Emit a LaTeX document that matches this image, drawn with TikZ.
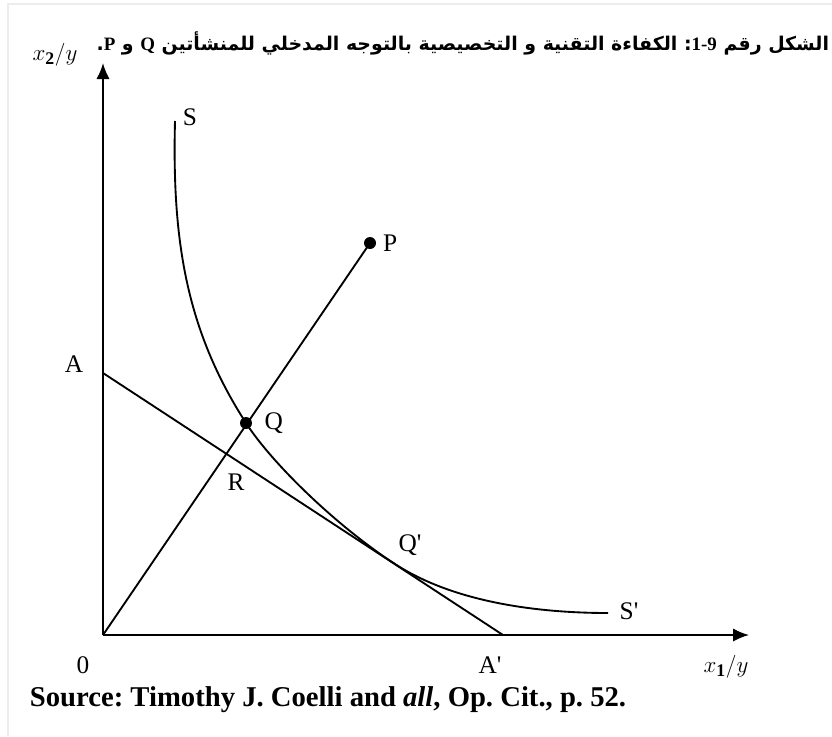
\documentclass[tikz,border=0pt]{standalone}
\usepackage{fontspec}
\setmainfont{Liberation Serif}
\newfontfamily\arabicfont[Script=Arabic]{DejaVu Sans}
\TeXXeTstate=1
\usetikzlibrary{arrows.meta,positioning}

\begin{document}
\frenchspacing
\begin{tikzpicture}[
  x=0.75pt, y=-0.75pt,
  >={Latex[length=12pt,width=10pt]},
  line width=1.4pt,
  lbl/.style={font=\fontsize{19}{21}\selectfont, inner sep=0pt},
  dot/.style={circle, fill, inner sep=0pt, minimum size=9pt}
]
  \useasboundingbox (0,0) rectangle (832,736);
  \draw[gray!15, line width=1.5pt] (8,736) -- (8,4) -- (832,4);

  % points of the figure
  \coordinate (O)  at (103,635);
  \coordinate (Y)  at (103,63);
  \coordinate (X)  at (749,635);
  \coordinate (A)  at (103,373);
  \coordinate (Ap) at (503,635);
  \coordinate (P)  at (370,243);
  \coordinate (Q)  at (246,423);
  \coordinate (Qp) at (395,564);
  \coordinate (S)  at (175,121);
  \coordinate (Sp) at (608,613);

  % axes
  \draw[->] (O) -- (Y);
  \draw[->] (O) -- (X);

  % isocost line and ray
  \draw (A) -- (Ap);
  \draw (O) -- (P);

  % isoquant SS'
  \draw (S) .. controls (172,240) and (186,330) .. (Q)
            .. controls (271,462) and (335,525) .. (Qp)
            .. controls (455,603) and (540,613) .. (Sp);

  \node[dot] (dotP) at (P) {};
  \node[dot] (dotQ) at (Q) {};

  % labels
  \node[lbl, right=4pt of dotP] (labP) {P};
  \node[lbl, right=8pt of dotQ] (labQ) {Q};
  \node[lbl] (labA)  at (74,364)  {A};
  \node[lbl] (labAp) at (490,665) {A\textquotesingle};
  \node[lbl] (labO)  at (83,665)  {0};
  \node[lbl] (labR)  at (236,482) {R};
  \node[lbl] (labS)  at (190,117) {S};
  \node[lbl] (labQp) at (410,545) {Q\textquotesingle};
  \node[lbl] (labSp) at (629,611) {S\textquotesingle};
  \node[lbl] (labX)  at (726,667) {$x_{\mathbf{1}}/y$};
  \node[lbl] (labY)  at (55,55)   {$x_{\mathbf{2}}/y$};

  \node[lbl, anchor=base east, font=\fontsize{14.2}{17}\selectfont] (title) at (830,50)
    {\arabicfont\bfseries\beginR الشكل رقم {\rmfamily 1-9}: الكفاءة التقنية و التخصيصية بالتوجه المدخلي للمنشأتين {\rmfamily Q} و {\rmfamily P}.\endR};
  \node[lbl, anchor=base west, font=\fontsize{21.5}{24}\selectfont\bfseries] (source) at (29,706)
    {Source: Timothy J. Coelli and \textit{all}, Op. Cit., p. 52.};
\end{tikzpicture}
\end{document}
